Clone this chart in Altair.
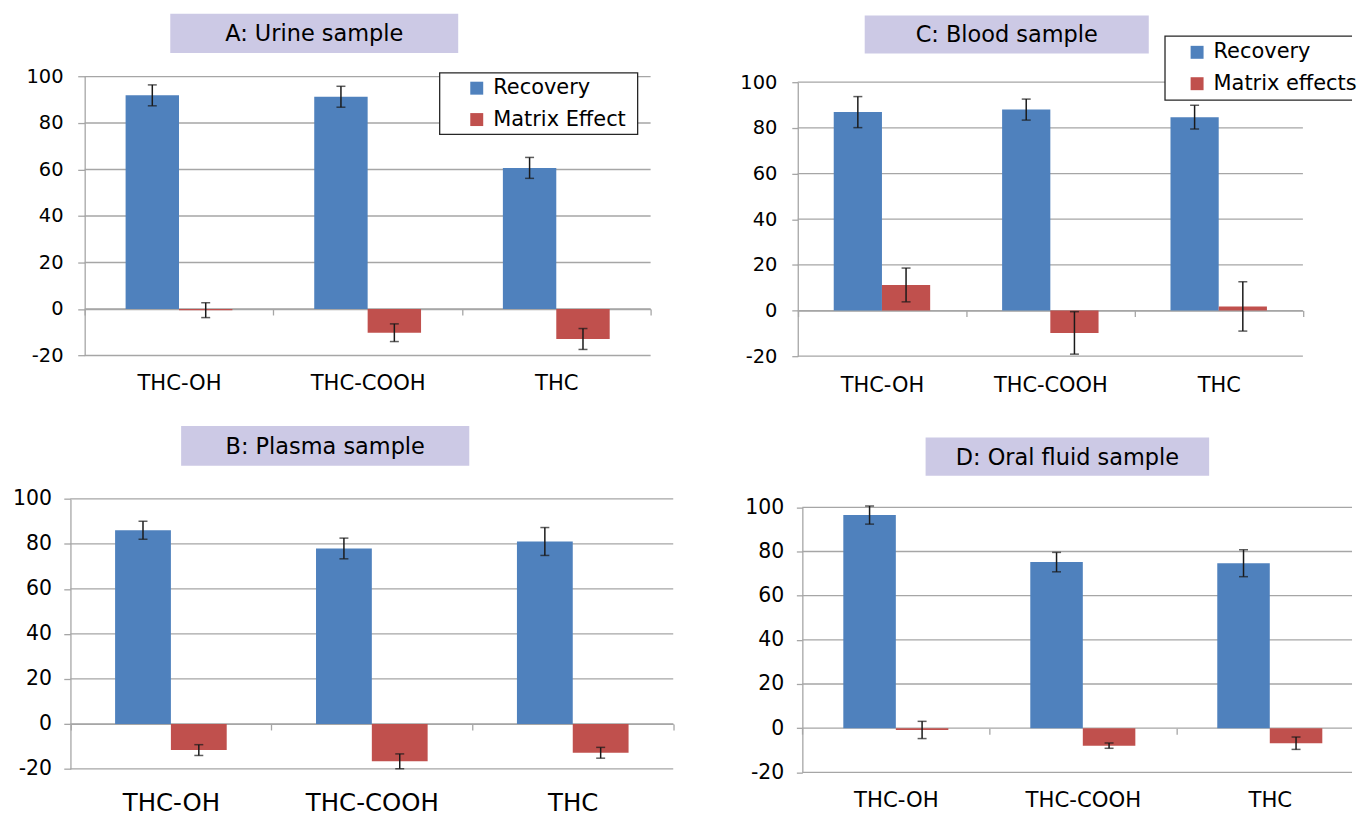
import altair as alt
import pandas as pd

FONT = "DejaVu Sans"
BLUE = "#4F81BD"
RED = "#C0504D"
LAVENDER = "#CCC9E5"
GRID = "#A6A6A6"
ERR = "#1A1A1A"

categories = ["THC-OH", "THC-COOH", "THC"]
y_ticks = [-20, 0, 20, 40, 60, 80, 100]

title_a = "A: Urine sample"
title_b = "B: Plasma sample"
title_c = "C: Blood sample"
title_d = "D: Oral fluid sample"

series_a = ["Recovery", "Matrix Effect"]
series_c = ["Recovery", "Matrix effects"]

a_recovery = [91.9, 91.3, 60.7]
a_recovery_err = [4.5, 4.5, 4.5]
a_matrix = [-0.5, -10.2, -12.9]
a_matrix_err = [3.2, 3.8, 4.5]

b_recovery = [86.1, 78.0, 81.1]
b_recovery_err = [4.0, 4.6, 6.2]
b_matrix = [-11.6, -16.6, -12.8]
b_matrix_err = [2.4, 3.3, 2.4]

c_recovery = [86.9, 88.0, 84.7]
c_recovery_err = [6.8, 4.6, 5.2]
c_matrix = [11.2, -9.8, 1.8]
c_matrix_err = [7.4, 9.3, 10.8]

d_recovery = [96.5, 75.2, 74.7]
d_recovery_err = [4.1, 4.4, 6.1]
d_matrix = [-0.8, -7.9, -6.8]
d_matrix_err = [3.9, 1.2, 2.8]


def make_df(series, rec, rec_err, mat, mat_err):
    rows = []
    for i, c in enumerate(categories):
        for s, v, e in ((series[0], rec[i], rec_err[i]), (series[1], mat[i], mat_err[i])):
            rows.append({"compound": c, "series": s, "value": v, "lo": v - e, "hi": v + e})
    return pd.DataFrame(rows)


def panel(df, series, title, L, legend=None):
    cw, ch = L["cw"], L["ch"]
    dx, dy, w, h = L["dx"], L["dy"], L["w"], L["h"]
    zero_y = dy + h * 100 / 120
    band = w / 3
    xaxis_kw = dict(
        orient="bottom", offset=-(ch - zero_y), domainColor=GRID, domainWidth=1.3,
        ticks=True, tickSize=6, tickColor=GRID, tickWidth=1.3,
        labelFont=FONT, labelFontSize=L["catfs"], labelColor="black", labelAngle=0,
        labelBaseline="middle", labelPadding=L["catpad"], title=None, grid=False,
    )
    if L.get("open_right"):
        xaxis = alt.Axis(domain=False, tickOffset=-band / 2, labelOffset=band / 2, **xaxis_kw)
    else:
        xaxis = alt.Axis(domain=True, tickBand="extent", **xaxis_kw)
    x = alt.X("compound:N", sort=categories, title=None,
              scale=alt.Scale(range=[dx, dx + w], paddingInner=0, paddingOuter=0), axis=xaxis)
    xo = alt.XOffset("series:N", sort=series,
                     scale=alt.Scale(domain=series, paddingInner=0, paddingOuter=L["po"]))
    ysc = alt.Scale(domain=[-20, 100], nice=False, range=[dy + h, dy])
    yaxis = alt.Axis(
        offset=-dx, values=y_ticks, domain=True, domainColor=GRID, domainWidth=1.3,
        ticks=True, tickSize=L["ytick"], tickColor=GRID, tickWidth=1.3, grid=False,
        labelFont=FONT, labelFontSize=L["yfs"], labelColor="black",
        labelPadding=L["ypad"], labelExpr="'' + datum.value", title=None,
    )
    color_scale = alt.Scale(domain=series, range=[BLUE, RED])
    if legend is not None:
        leg = alt.Legend(
            orient="none", legendX=dx + legend["sx"], legendY=dy + legend["ly"], title=None,
            labelFont=FONT, labelFontSize=21, labelColor="black",
            symbolType="square", symbolSize=169, symbolStrokeWidth=0, symbolOpacity=1,
            labelOffset=6, rowPadding=9.5, padding=0, labelLimit=400,
        )
        color = alt.Color("series:N", legend=leg, scale=color_scale)
    else:
        color = alt.Color("series:N", legend=None, scale=color_scale)

    grid = alt.Chart(pd.DataFrame({"tick": y_ticks})).mark_rule(
        color=GRID, strokeWidth=1.3, clip=True
    ).encode(
        y=alt.Y("tick:Q", scale=ysc, axis=yaxis, title=None),
        x=alt.value(dx), x2=alt.value(dx + w),
    )
    bars = alt.Chart(df).mark_bar(clip=True).encode(
        x=x, xOffset=xo, y=alt.Y("value:Q", scale=ysc, axis=yaxis, title=None), color=color
    )
    rules = alt.Chart(df).mark_rule(color=ERR, strokeWidth=1.5).encode(
        x=x, xOffset=xo, y=alt.Y("lo:Q", scale=ysc, axis=yaxis, title=None), y2="hi:Q"
    )
    caps = alt.Chart(df).transform_fold(["lo", "hi"], as_=["end", "yv"]).mark_tick(
        color=ERR, size=9, thickness=1.5
    ).encode(x=x, xOffset=xo, y=alt.Y("yv:Q", scale=ysc, axis=yaxis, title=None))

    tdf = pd.DataFrame({"t": [title]})
    tx0, tx1 = dx + L["tx0"], dx + L["tx1"]
    ty0, ty1 = dy + L["ty0"], dy + L["ty1"]
    trect = alt.Chart(tdf).mark_rect(color=LAVENDER).encode(
        x=alt.value(tx0), x2=alt.value(tx1), y=alt.value(ty0), y2=alt.value(ty1)
    )
    ttext = alt.Chart(tdf).mark_text(
        font=FONT, fontSize=22.5, color="black", align="center", baseline="middle"
    ).encode(x=alt.value((tx0 + tx1) / 2), y=alt.value((ty0 + ty1) / 2 + 1), text="t:N")

    layers = [trect, ttext, grid]
    if legend is not None:
        lbox = alt.Chart(pd.DataFrame({"b": [0]})).mark_rect(
            fill="white", stroke="#262626", strokeWidth=1.3, clip=True
        ).encode(
            x=alt.value(dx + legend["bx0"]), x2=alt.value(dx + legend["bx1"]),
            y=alt.value(dy + legend["by0"]), y2=alt.value(dy + legend["by1"]),
        )
        layers.append(lbox)
    layers += [bars, rules, caps]
    return alt.layer(*layers).properties(width=cw, height=ch)


LA = dict(cw=680, ch=410, dx=85, dy=75.3, w=568, h=280, po=0.766, catfs=21.2, catpad=68.4,
          yfs=19.5, ytick=7, ypad=14.7, tx0=85.9, tx1=374.9, ty0=-63, ty1=-23.6)
LC = dict(cw=677, ch=410, dx=120.7, dy=81, w=507, h=275, po=0.746, catfs=21, catpad=68.8,
          yfs=19.5, ytick=6, ypad=15, tx0=67.2, tx1=352.3, ty0=-67, ty1=-28.7)
LB = dict(cw=680, ch=407, dx=70.7, dy=89.3, w=605, h=271, po=0.80, catfs=24.5, catpad=73.4,
          yfs=20.5, ytick=6.7, ypad=12.3, tx0=111.1, tx1=400.3, ty0=-73.3, ty1=-33.3)
LD = dict(cw=677, ch=407, dx=125.3, dy=97.7, w=563, h=266, po=0.78, catfs=21.3, catpad=66.6,
          yfs=20.5, ytick=6, ypad=12.6, tx0=123.7, tx1=408.3, ty0=-70.2, ty1=-31.7,
          open_right=True)

legA = dict(sx=383, ly=1.2, bx0=356.3, bx1=555, by0=-3.6, by1=58)
legC = dict(sx=390.3, ly=-40.5, bx0=368.6, bx1=580, by0=-46.3, by1=18)

pA = panel(make_df(series_a, a_recovery, a_recovery_err, a_matrix, a_matrix_err), series_a, title_a, LA, legA)
pC = panel(make_df(series_c, c_recovery, c_recovery_err, c_matrix, c_matrix_err), series_c, title_c, LC, legC)
pB = panel(make_df(series_c, b_recovery, b_recovery_err, b_matrix, b_matrix_err), series_c, title_b, LB)
pD = panel(make_df(series_c, d_recovery, d_recovery_err, d_matrix, d_matrix_err), series_c, title_d, LD)

chart = alt.concat(pA, pC, pB, pD, columns=2, spacing=0, bounds="flush", align="each").resolve_scale(
    color="independent", x="independent", y="independent", xOffset="independent"
).resolve_legend(color="independent").properties(
    padding=0, background="white",
).configure(font=FONT).configure_view(stroke="transparent", strokeWidth=0, fill="white")

chart.save("out.html", embed_options={"renderer": "svg", "actions": False})
